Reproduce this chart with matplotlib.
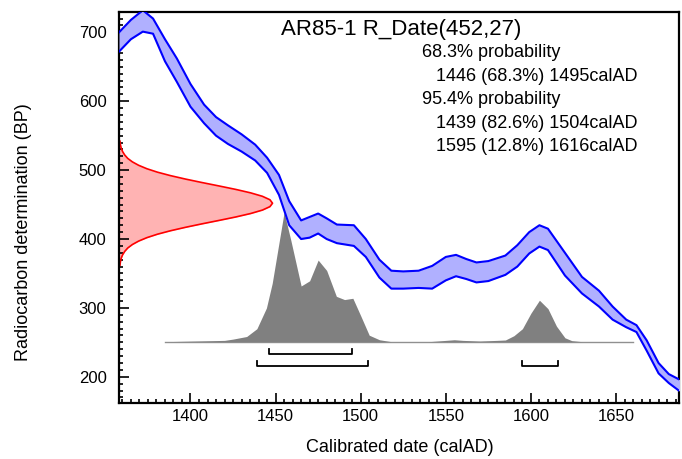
import matplotlib
matplotlib.use("Agg")
import matplotlib.pyplot as plt
from matplotlib.ticker import MultipleLocator

plt.rcParams['font.family'] = ['Liberation Sans', 'DejaVu Sans']

# calibration curve band (calAD, BP upper / lower edge)
curve_years = [1358, 1365, 1372, 1378, 1385, 1392, 1400, 1408, 1415, 1422, 1430,
               1438, 1445, 1452, 1458, 1465, 1470, 1475, 1480, 1486, 1496, 1503,
               1511, 1518, 1525, 1534, 1542, 1550, 1556, 1562, 1568, 1575, 1585,
               1592, 1599, 1605, 1610, 1620, 1630, 1640, 1648, 1656, 1662, 1668,
               1675, 1681, 1688]
curve_upper = [700, 718, 732, 720, 690, 662, 625, 595, 577, 565, 552,
               537, 518, 493, 455, 427, 432, 437, 430, 421, 420, 400,
               370, 354, 353, 354, 361, 374, 377, 371, 366, 368, 376,
               391, 410, 420, 415, 380, 345, 325, 302, 283, 275, 253,
               220, 204, 195]
curve_lower = [672, 690, 701, 698, 658, 628, 592, 568, 550, 538, 527,
               514, 496, 464, 420, 400, 402, 408, 400, 394, 390, 374,
               344, 328, 328, 329, 328, 340, 346, 342, 337, 339, 348,
               360, 379, 389, 384, 347, 321, 302, 283, 272, 265, 238,
               205, 191, 178]

# radiocarbon measurement distribution on the BP axis (relative height)
rc_bp = [362, 367, 372, 377, 382, 387, 392, 397, 402, 407, 412, 417, 422, 427,
         432, 437, 442, 447, 452, 457, 462, 467, 472, 477, 482, 487, 492, 497,
         502, 507, 512, 517, 522, 527, 532, 537, 542]
rc_rel = [0.004, 0.007, 0.012, 0.021, 0.035, 0.055, 0.085, 0.126, 0.18, 0.249,
          0.334, 0.432, 0.539, 0.651, 0.76, 0.857, 0.934, 0.983, 1.0, 0.983,
          0.934, 0.857, 0.76, 0.651, 0.539, 0.432, 0.334, 0.249, 0.18, 0.126,
          0.085, 0.055, 0.035, 0.021, 0.012, 0.007, 0.004]

# calibrated date distribution (relative height)
cal_years = [1385, 1420, 1425, 1433, 1439, 1444.6, 1448, 1455, 1459, 1465, 1470,
             1475, 1480, 1485.7, 1490.5, 1495.4, 1500, 1505, 1511, 1518, 1540,
             1550, 1555, 1560, 1570, 1580, 1585, 1590, 1595, 1600, 1605, 1610,
             1615, 1620, 1624, 1630, 1660]
cal_prob = [0, 0.01, 0.02, 0.04, 0.10, 0.26, 0.45, 1.0, 0.78, 0.43, 0.47,
            0.63, 0.55, 0.35, 0.325, 0.335, 0.20, 0.05, 0.015, 0.0, 0.0,
            0.01, 0.015, 0.01, 0.005, 0.01, 0.013, 0.046, 0.10, 0.22, 0.32, 0.255,
            0.12, 0.03, 0.008, 0.0, 0.0]

range68 = [(1446, 1495)]
range95 = [(1439, 1504), (1595, 1616)]

title = "AR85-1 R_Date(452,27)"
lines = [("68.3% probability", 0),
         ("1446 (68.3%) 1495calAD", 1),
         ("95.4% probability", 0),
         ("1439 (82.6%) 1504calAD", 1),
         ("1595 (12.8%) 1616calAD", 1)]

W, H = 682, 459
fig = plt.figure(figsize=(W / 100, H / 100), dpi=100)
ax = fig.add_axes([119 / W, 1 - 403 / H, (679 - 119) / W, (403 - 12) / H])

xmin, xmax = 1358, 1687
ymin, ymax = 162, 729.5

# red measurement curve
rc_x = [xmin + 0.2 + r * 90 for r in rc_rel]
ax.fill_betweenx(rc_bp, xmin, rc_x, color='#ffb3b3', lw=0, zorder=1)
ax.plot(rc_x, rc_bp, color='#ff0000', lw=1.2, zorder=2)

# grey calibrated distribution
base = 251
scale = 188
ax.plot([1385, 1660], [base, base], color='#909090', lw=1.0, zorder=1)
ax.fill_between(cal_years, base, [base + p * scale for p in cal_prob],
                color='#808080', lw=0, zorder=1)

# calibration curve band
ax.fill_between(curve_years, curve_lower, curve_upper, color='#b0b0ff', lw=0, zorder=3)
ax.plot(curve_years, curve_upper, color='#0000ff', lw=1.5, zorder=4)
ax.plot(curve_years, curve_lower, color='#0000ff', lw=1.5, zorder=4)

# range brackets
for (a, b) in range68:
    ax.plot([a, a, b, b], [241, 233, 233, 241], color='black', lw=1.3, zorder=5)
for (a, b) in range95:
    ax.plot([a, a, b, b], [223, 215, 215, 223], color='black', lw=1.3, zorder=5)

ax.set_xlim(xmin, xmax)
ax.set_ylim(ymin, ymax)
ax.xaxis.set_major_locator(MultipleLocator(50))
ax.xaxis.set_minor_locator(MultipleLocator(5))
ax.yaxis.set_major_locator(MultipleLocator(100))
ax.yaxis.set_minor_locator(MultipleLocator(10))
ax.tick_params(which='both', direction='in', top=False, right=False,
               width=1.2, labelsize=12)
ax.tick_params(axis='x', which='major', length=7, pad=4)
ax.tick_params(axis='y', which='major', length=7, pad=9)
ax.tick_params(which='minor', length=3)
for s in ax.spines.values():
    s.set_linewidth(1.6)

fig.text(281 / W, 1 - 35 / H, title, fontsize=16, va='baseline', ha='left')
y0 = 57
for i, (txt, ind) in enumerate(lines):
    x = 422.3 if ind == 0 else 435.7
    fig.text(x / W, 1 - (y0 + i * 23.6) / H, txt, fontsize=13,
             va='baseline', ha='left')

fig.text(400 / W, 1 - 447 / H, "Calibrated date (calAD)", fontsize=13,
         ha='center', va='center')
fig.text(24 / W, 1 - 232 / H, "Radiocarbon determination (BP)", fontsize=13,
         ha='center', va='center', rotation=90)

fig.savefig("out.png", dpi=100)
